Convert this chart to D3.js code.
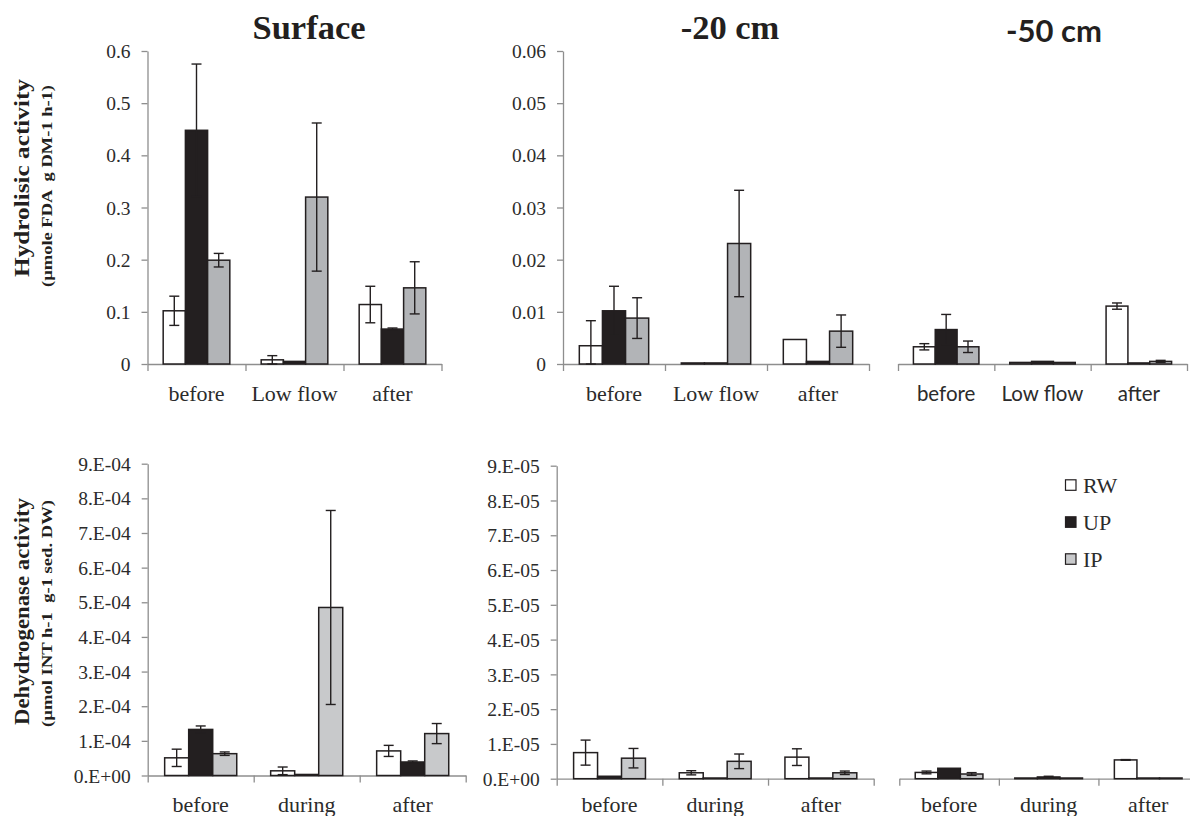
<!DOCTYPE html>
<html>
<head>
<meta charset="utf-8">
<script src="https://cdn.jsdelivr.net/npm/d3@7"></script>
<style>
  html, body { margin: 0; padding: 0; background: #fff; }
  svg { display: block; }
</style>
</head>
<body>
<svg id="chart" width="1190" height="816"></svg>
<script>
// ---------------- DATA ----------------
const series = ["RW", "UP", "IP"];
const categoriesTop = ["before", "Low flow", "after"];
const categoriesBottom = ["before", "during", "after"];

// Hydrolytic activity (rows: categories, cols: RW, UP, IP)
const hydroSurfaceMean = [[0.102, 0.448, 0.199], [0.008, 0.005, 0.320], [0.114, 0.067, 0.146]];
const hydroSurfaceErr  = [[0.028, 0.127, 0.013], [0.008, 0.000, 0.142], [0.035, 0.002, 0.050]];
const hydro20Mean = [[0.0035, 0.0102, 0.0088], [0.0002, 0.0002, 0.0231], [0.0047, 0.0005, 0.0063]];
const hydro20Err  = [[0.0048, 0.0047, 0.0039], [0, 0, 0.0102], [0, 0, 0.0031]];
const hydro50Mean = [[0.0033, 0.0066, 0.0033], [0.0003, 0.0005, 0.0003], [0.0111, 0.0002, 0.0005]];
const hydro50Err  = [[0.0006, 0.0029, 0.0011], [0, 0, 0], [0.0006, 0, 0.0002]];

// Dehydrogenase activity
const dehySurfaceMean = [[5.1e-5, 1.33e-4, 6.3e-5], [1.35e-5, 3e-6, 4.85e-4], [7.1e-5, 3.9e-5, 1.21e-4]];
const dehySurfaceErr  = [[2.5e-5, 1.0e-5, 5e-6], [1.1e-5, 0, 2.8e-4], [1.6e-5, 3e-6, 2.9e-5]];
const dehy20Mean = [[7.5e-6, 7e-7, 5.9e-6], [1.7e-6, 2e-7, 5.0e-6], [6.2e-6, 2e-7, 1.7e-6]];
const dehy20Err  = [[3.6e-6, 0, 2.8e-6], [6e-7, 0, 2.1e-6], [2.4e-6, 0, 5e-7]];
const dehy50Mean = [[1.8e-6, 3.0e-6, 1.35e-6], [2e-7, 5e-7, 2e-7], [5.4e-6, 2e-7, 2e-7]];
const dehy50Err  = [[4e-7, 0, 4e-7], [0, 2e-7, 0], [1e-7, 0, 0]];

// Tick values & labels
const hydroSurfaceTicks = [0, 0.1, 0.2, 0.3, 0.4, 0.5, 0.6];
const hydroSurfaceTickLabels = ["0", "0.1", "0.2", "0.3", "0.4", "0.5", "0.6"];
const hydro20Ticks = [0, 0.01, 0.02, 0.03, 0.04, 0.05, 0.06];
const hydro20TickLabels = ["0", "0.01", "0.02", "0.03", "0.04", "0.05", "0.06"];
const dehySurfaceTicks = [0, 1e-4, 2e-4, 3e-4, 4e-4, 5e-4, 6e-4, 7e-4, 8e-4, 9e-4];
const dehySurfaceTickLabels = ["0.E+00", "1.E-04", "2.E-04", "3.E-04", "4.E-04", "5.E-04", "6.E-04", "7.E-04", "8.E-04", "9.E-04"];
const dehy20Ticks = [0, 1e-5, 2e-5, 3e-5, 4e-5, 5e-5, 6e-5, 7e-5, 8e-5, 9e-5];
const dehy20TickLabels = ["0.E+00", "1.E-05", "2.E-05", "3.E-05", "4.E-05", "5.E-05", "6.E-05", "7.E-05", "8.E-05", "9.E-05"];

const titles = ["Surface", "-20 cm", "-50 cm"];
const yTitleTop = ["Hydrolisic activity", "(\u00b5mole FDA  g DM-1 h-1)"];
const yTitleBottom = ["Dehydrogenase activity", "(\u00b5mol INT h-1  g-1 sed. DW)"];

// ---------------- STYLE / LAYOUT ----------------
const SERIF = "'Liberation Serif', 'Times New Roman', Times, serif";
const SANS = "Lato, 'Open Sans', sans-serif";
const INK = "#231f20";
const TXT = "#2b2b2b";
const AXIS = "#8e8e8e";
const ipTop = "#b2b4b7";
const ipBottom = "#c8c9cb";

const panels = [
  { mean: hydroSurfaceMean, err: hydroSurfaceErr, cats: categoriesTop, x0: 147.5, x1: 441.5, yZero: 364, yTop: 51, max: 0.6,
    ticks: hydroSurfaceTicks, labels: hydroSurfaceTickLabels, showY: true, font: SERIF, catSize: 22, catY: 401, ip: ipTop },
  { mean: hydro20Mean, err: hydro20Err, cats: categoriesTop, x0: 563, x1: 869, yZero: 364, yTop: 51, max: 0.06,
    ticks: hydro20Ticks, labels: hydro20TickLabels, showY: true, font: SERIF, catSize: 22, catY: 401, ip: ipTop },
  { mean: hydro50Mean, err: hydro50Err, cats: categoriesTop, x0: 898, x1: 1187, yZero: 364, yTop: 51, max: 0.06,
    ticks: null, labels: null, showY: false, font: SANS, catSize: 20.5, catY: 401, ip: ipTop },
  { mean: dehySurfaceMean, err: dehySurfaceErr, cats: categoriesBottom, x0: 147.7, x1: 465.7, yZero: 775.5, yTop: 463.7, max: 9e-4,
    ticks: dehySurfaceTicks, labels: dehySurfaceTickLabels, showY: true, font: SERIF, catSize: 22, catY: 812, ip: ipBottom },
  { mean: dehy20Mean, err: dehy20Err, cats: categoriesBottom, x0: 556.7, x1: 873.7, yZero: 778.7, yTop: 465.7, max: 9e-5,
    ticks: dehy20Ticks, labels: dehy20TickLabels, showY: true, font: SERIF, catSize: 22, catY: 812, ip: ipBottom },
  { mean: dehy50Mean, err: dehy50Err, cats: categoriesBottom, x0: 899.3, x1: 1198, yZero: 778.7, yTop: 465.7, max: 9e-5,
    ticks: null, labels: null, showY: false, font: SERIF, catSize: 22, catY: 812, ip: ipBottom }
];

const svg = d3.select("#chart");

panels.forEach(p => {
  const g = svg.append("g");
  const y = d3.scaleLinear().domain([0, p.max]).range([p.yZero, p.yTop]);
  const xb = d3.scaleBand().domain(p.cats).range([p.x0, p.x1]).paddingInner(0.32).paddingOuter(0.16);
  const xs = d3.scaleBand().domain(series).range([0, xb.bandwidth()]);
  const fills = { RW: "#ffffff", UP: INK, IP: p.ip };

  // y axis
  if (p.showY) {
    const ya = d3.axisLeft(y).tickValues(p.ticks).tickFormat((d, i) => p.labels[i]).tickSize(6).tickSizeOuter(0).tickPadding(11);
    const ag = g.append("g").attr("transform", `translate(${p.x0},0)`).call(ya);
    ag.select(".domain").attr("stroke", AXIS).attr("stroke-width", 1.3);
    ag.selectAll(".tick line").attr("stroke", AXIS).attr("stroke-width", 1.3);
    ag.selectAll(".tick text").attr("font-family", SERIF).attr("font-size", 19.5).attr("fill", TXT).attr("dy", "0.34em");
  }

  // x axis (boundary ticks)
  const xl = d3.scaleLinear().domain([0, p.cats.length]).range([p.x0, p.x1]);
  const xa = d3.axisBottom(xl).tickValues(d3.range(p.cats.length + 1)).tickFormat("").tickSize(7).tickSizeOuter(0);
  const xg = g.append("g").attr("transform", `translate(0,${p.yZero})`).call(xa);
  xg.select(".domain").attr("stroke", AXIS).attr("stroke-width", 1.3);
  xg.selectAll(".tick line").attr("stroke", AXIS).attr("stroke-width", 1.3);

  // category labels
  g.selectAll("text.cat").data(p.cats).enter().append("text")
    .attr("class", "cat")
    .attr("x", d => xb(d) + xb.bandwidth() / 2)
    .attr("y", p.catY)
    .attr("text-anchor", "middle")
    .attr("font-family", p.font)
    .attr("font-size", p.catSize)
    .attr("fill", TXT)
    .text(d => d);

  // bars
  const rows = [];
  p.cats.forEach((c, ci) => series.forEach((s, si) => rows.push({ c, s, v: p.mean[ci][si], e: p.err[ci][si] })));
  g.selectAll("rect.bar").data(rows).enter().append("rect")
    .attr("class", "bar")
    .attr("x", d => xb(d.c) + xs(d.s))
    .attr("y", d => y(d.v))
    .attr("width", xs.bandwidth())
    .attr("height", d => Math.max(0, y(0) - y(d.v)))
    .attr("fill", d => fills[d.s])
    .attr("stroke", INK)
    .attr("stroke-width", 1.5);

  // error bars
  const eb = rows.filter(d => d.e > 0);
  const cx = d => xb(d.c) + xs(d.s) + xs.bandwidth() / 2;
  const eg = g.selectAll("g.err").data(eb).enter().append("g").attr("class", "err")
    .attr("stroke", INK).attr("stroke-width", 1.4);
  eg.append("line").attr("x1", cx).attr("x2", cx).attr("y1", d => y(d.v + d.e)).attr("y2", d => y(Math.max(0, d.v - d.e)));
  eg.append("line").attr("x1", d => cx(d) - 5).attr("x2", d => cx(d) + 5).attr("y1", d => y(d.v + d.e)).attr("y2", d => y(d.v + d.e));
  eg.append("line").attr("x1", d => cx(d) - 5).attr("x2", d => cx(d) + 5)
    .attr("y1", d => y(Math.max(0, d.v - d.e))).attr("y2", d => y(Math.max(0, d.v - d.e)));
});

// Titles
svg.append("text").attr("x", 309).attr("y", 39).attr("text-anchor", "middle")
  .attr("font-family", SERIF).attr("font-weight", "bold").attr("font-size", 34.5).attr("fill", INK).text(titles[0]);
svg.append("text").attr("x", 730).attr("y", 39).attr("text-anchor", "middle")
  .attr("font-family", SERIF).attr("font-weight", "bold").attr("font-size", 34.5).attr("fill", INK).text(titles[1]);
svg.append("text").attr("x", 1054).attr("y", 42).attr("text-anchor", "middle")
  .attr("font-family", SANS).attr("font-weight", "bold").attr("font-size", 31).attr("fill", INK).text(titles[2]);

// Y titles
function yTitle(lines, cy1, cy2, len1, len2) {
  svg.append("text").attr("transform", `translate(29,${cy1}) rotate(-90)`).attr("text-anchor", "middle")
    .attr("font-family", SERIF).attr("font-weight", "bold").attr("font-size", 21).attr("fill", INK)
    .attr("textLength", len1).attr("lengthAdjust", "spacingAndGlyphs").text(lines[0]);
  svg.append("text").attr("transform", `translate(52,${cy2}) rotate(-90)`).attr("text-anchor", "middle")
    .attr("font-family", SERIF).attr("font-weight", "bold").attr("font-size", 14.5).attr("fill", INK)
    .attr("xml:space", "preserve").style("white-space", "pre")
    .attr("textLength", len2).attr("lengthAdjust", "spacingAndGlyphs").text(lines[1]);
}
yTitle(yTitleTop, 178, 186, 198, 202);
yTitle(yTitleBottom, 611.5, 613.5, 227, 227);

// Legend
const legendFills = { RW: "#ffffff", UP: INK, IP: ipBottom };
const lg = svg.append("g");
series.forEach((s, i) => {
  const by = 493.3 + i * 37;
  lg.append("rect").attr("x", 1065.5).attr("y", by - 13.5).attr("width", 10.5).attr("height", 10.5)
    .attr("fill", legendFills[s]).attr("stroke", INK).attr("stroke-width", 1.2);
  lg.append("text").attr("x", 1083).attr("y", by).attr("font-family", SERIF).attr("font-size", 22)
    .attr("fill", TXT).text(s);
});
</script>
</body>
</html>
